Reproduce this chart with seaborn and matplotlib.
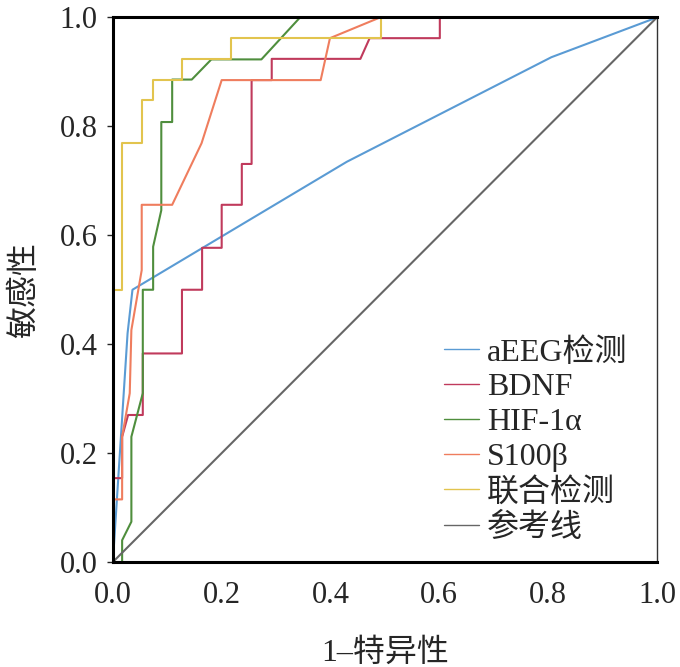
import matplotlib
matplotlib.use("Agg")
import matplotlib.pyplot as plt
import seaborn as sns
import pandas as pd

# ROC curves
names = ["aEEG检测", "BDNF", "HIF-1α", "S100β", "联合检测", "参考线"]
colors = ["#5a9bd4", "#c03a5c", "#4f8e3d", "#ef7d5e", "#e2c44e", "#666666"]

aeeg_x = [0, 0.027, 0.036, 0.43, 0.806, 1.0]
aeeg_y = [0, 0.42, 0.50, 0.735, 0.927, 1.0]

bdnf_x = [0, 0, 0.017, 0.017, 0.028, 0.055, 0.055, 0.127, 0.127, 0.164, 0.164,
          0.200, 0.200, 0.237, 0.237, 0.255, 0.255, 0.292, 0.292, 0.455, 0.472,
          0.601, 0.601, 1.0]
bdnf_y = [0, 0.154, 0.154, 0.23, 0.27, 0.27, 0.383, 0.383, 0.50, 0.50, 0.577,
          0.577, 0.656, 0.656, 0.731, 0.731, 0.885, 0.885, 0.924, 0.924, 0.962,
          0.962, 1.0, 1.0]

hif_x = [0, 0.017, 0.017, 0.034, 0.034, 0.055, 0.055, 0.074, 0.074, 0.089, 0.089,
         0.109, 0.109, 0.145, 0.181, 0.273, 0.344, 1.0]
hif_y = [0, 0, 0.04, 0.074, 0.23, 0.31, 0.50, 0.50, 0.579, 0.646, 0.808,
         0.808, 0.886, 0.886, 0.923, 0.923, 1.0, 1.0]

s100_x = [0, 0, 0.017, 0.017, 0.031, 0.034, 0.053, 0.053, 0.109, 0.163, 0.200,
          0.382, 0.399, 0.491, 1.0]
s100_y = [0, 0.115, 0.115, 0.23, 0.31, 0.426, 0.536, 0.656, 0.656, 0.769, 0.885,
          0.885, 0.962, 1.0, 1.0]

comb_x = [0, 0, 0.017, 0.017, 0.053, 0.053, 0.074, 0.074, 0.127, 0.127, 0.218,
          0.218, 0.492, 0.492, 1.0]
comb_y = [0, 0.50, 0.50, 0.77, 0.77, 0.849, 0.849, 0.886, 0.886, 0.924, 0.924,
          0.962, 0.962, 1.0, 1.0]

ref_x = [0, 1.0]
ref_y = [0, 1.0]

curves = [(aeeg_x, aeeg_y), (bdnf_x, bdnf_y), (hif_x, hif_y),
          (s100_x, s100_y), (comb_x, comb_y), (ref_x, ref_y)]

rows = []
for name, (xs, ys) in zip(names, curves):
    for xv, yv in zip(xs, ys):
        rows.append({"curve": name, "fpr": xv, "tpr": yv})
df = pd.DataFrame(rows)

sns.set_style("ticks")
plt.rcParams["font.family"] = ["Liberation Serif", "Noto Sans CJK SC"]

fig = plt.figure(figsize=(6.8, 6.67), dpi=100)
ax = fig.add_axes([0.166, 0.1574, 0.8, 0.8164])

sns.lineplot(data=df, x="fpr", y="tpr", hue="curve", hue_order=names,
             palette=colors, sort=False, estimator=None, linewidth=1.5, ax=ax)

ax.set_xlim(0, 1)
ax.set_ylim(0, 1)
ticks = [0, 0.2, 0.4, 0.6, 0.8, 1.0]
ax.set_xticks(ticks)
ax.set_yticks(ticks)
ax.set_xticklabels([f"{t:.1f}" for t in ticks])
ax.set_yticklabels([f"{t:.1f}" for t in ticks])
ax.tick_params(axis="x", labelsize=22, length=0, pad=14)
ax.tick_params(axis="y", labelsize=22, length=4, width=1, pad=7)

for side in ["left", "bottom", "top"]:
    ax.spines[side].set_linewidth(2.2)
    ax.spines[side].set_color("black")
    ax.spines[side].set_zorder(5)
ax.spines["right"].set_linewidth(1.0)
ax.spines["right"].set_color("#333333")

ax.set_xlabel("1–特异性", fontsize=23, labelpad=20)
ax.set_ylabel("敏感性", fontsize=23, labelpad=14)

leg = ax.legend(loc="upper left", bbox_to_anchor=(0.585, 0.435), frameon=False,
                fontsize=23, handlelength=1.1, handletextpad=0.25,
                labelspacing=0.17, borderaxespad=0)
for line in leg.get_lines():
    line.set_linewidth(1.0)

fig.savefig("out.png", dpi=100)
